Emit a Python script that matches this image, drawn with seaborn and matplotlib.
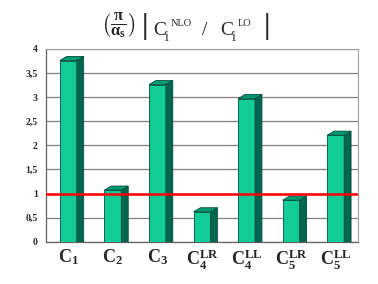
import matplotlib
matplotlib.use("Agg")
import matplotlib.pyplot as plt
import seaborn as sns
import pandas as pd
import numpy as np
from matplotlib.patches import Polygon
from matplotlib.ticker import FixedLocator, FuncFormatter

categories = ["C1", "C2", "C3", "C4LR", "C4LL", "C5LR", "C5LL"]
values = [3.76, 1.07, 3.26, 0.62, 2.97, 0.86, 2.21]
tick_labels = [r"$\mathbf{C}_\mathbf{1}$", r"$\mathbf{C}_\mathbf{2}$", r"$\mathbf{C}_\mathbf{3}$",
               r"$\mathbf{C}_\mathbf{4}^\mathbf{LR}$", r"$\mathbf{C}_\mathbf{4}^\mathbf{LL}$",
               r"$\mathbf{C}_\mathbf{5}^\mathbf{LR}$", r"$\mathbf{C}_\mathbf{5}^\mathbf{LL}$"]
y_ticks = [0, 0.5, 1, 1.5, 2, 2.5, 3, 3.5, 4]
ref_value = 1.0
title_prefactor = r"$\mathbf{\left(\frac{\pi}{\alpha_s}\right)}$"
title_num = ("C", "i", "NLO")
title_den = ("C", "i", "LO")

sns.set_style("white")
plt.rcParams["mathtext.fontset"] = "custom"
plt.rcParams["mathtext.rm"] = "Liberation Serif"
plt.rcParams["mathtext.it"] = "Liberation Serif:italic"
plt.rcParams["mathtext.bf"] = "Liberation Serif:bold"
plt.rcParams["font.family"] = ["Liberation Serif", "DejaVu Serif"]

df = pd.DataFrame({"cat": categories, "val": values})

W, H = 378, 284
fig = plt.figure(figsize=(W / 100, H / 100), dpi=100)
ax = fig.add_axes([0.1217, 0.149, 0.8253, 0.6785])

front = "#11cc99"
side = "#006650"
top = "#009973"
edge = "#004d3a"

sns.barplot(data=df, x="cat", y="val", ax=ax, color=front, width=0.38,
            saturation=1, edgecolor=edge, linewidth=0.6, zorder=3)

ax.set_xlim(-0.5, len(categories) - 0.5)
ax.set_ylim(0, 4)

dx = 0.155
dy = 0.085
for p in ax.patches:
    x0 = p.get_x()
    w = p.get_width()
    h = p.get_height()
    x1 = x0 + w
    ax.add_patch(Polygon([(x1, 0), (x1 + dx, 0), (x1 + dx, h + dy), (x1, h)],
                         closed=True, facecolor=side, edgecolor=edge, linewidth=0.6, zorder=3))
    ax.add_patch(Polygon([(x0, h), (x1, h), (x1 + dx, h + dy), (x0 + dx, h + dy)],
                         closed=True, facecolor=top, edgecolor=edge, linewidth=0.6, zorder=3))

ax.axhline(ref_value, color="#ff0000", linewidth=1.8, zorder=5)

ax.yaxis.set_major_locator(FixedLocator(y_ticks))
ax.yaxis.set_major_formatter(FuncFormatter(lambda v, p: f"{v:g}".replace(".", ",")))
ax.grid(axis="y", color="#808080", linewidth=0.9, zorder=0)
ax.set_axisbelow(True)

ax.set_xticks(np.arange(len(categories)))
ax.set_xticklabels(tick_labels, fontsize=13)
ax.xaxis.set_minor_locator(FixedLocator(np.arange(len(categories) + 1) - 0.5))
ax.tick_params(axis="x", which="major", length=0, pad=4)
ax.tick_params(axis="x", which="minor", length=4, width=0.8, color="#808080", direction="out")
ax.tick_params(axis="y", length=4, width=0.8, color="#808080", direction="out", labelsize=7, pad=2)
for lab in ax.get_yticklabels():
    lab.set_fontweight("bold")

ax.set_xlabel("")
ax.set_ylabel("")
for s in ["left", "bottom"]:
    ax.spines[s].set_color("#606060")
    ax.spines[s].set_linewidth(0.9)
for s in ["top", "right"]:
    ax.spines[s].set_color("#a0a0a0")
    ax.spines[s].set_linewidth(0.8)

def fx(px):
    return px / W

def fy(py):
    return 1 - py / H

def ratio_term(x, parts):
    c, sub, sup = parts
    fig.text(fx(x), fy(35), c, ha="left", va="baseline", fontsize=14)
    fig.text(fx(x + 12), fy(41), sub, ha="left", va="baseline", fontsize=10)
    fig.text(fx(x + 18), fy(26), sup, ha="left", va="baseline", fontsize=7.5)

fig.text(fx(118), fy(25), title_prefactor, ha="center", va="center", fontsize=17)
fig.text(fx(145), fy(26), "|", ha="center", va="center", fontsize=21, fontweight="bold")
ratio_term(153, title_num)
fig.text(fx(205), fy(35), "/", ha="center", va="baseline", fontsize=14)
ratio_term(220, title_den)
fig.text(fx(267), fy(26), "|", ha="center", va="center", fontsize=21, fontweight="bold")

fig.savefig("out.png", dpi=100)
